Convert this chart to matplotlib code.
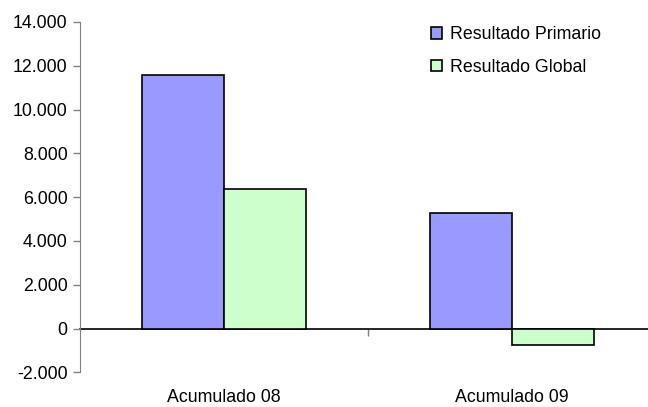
import matplotlib.pyplot as plt
from matplotlib.ticker import FuncFormatter
import numpy as np

plt.rcParams['font.family'] = ['Liberation Sans', 'DejaVu Sans']

categorias = ['Acumulado 08', 'Acumulado 09']
primario = [11600, 5270]
glob = [6380, -775]
series = ['Resultado Primario', 'Resultado Global']
colores = ['#9999FF', '#CCFFCC']

fig = plt.figure(figsize=(6.48, 4.07), dpi=100)
ax = fig.add_axes([80/648, 34.7/407, 576/648, 350.3/407])

x = np.arange(len(categorias))
w = 0.285
ax.bar(x - w/2, primario, w, color=colores[0], edgecolor='black', linewidth=1.2, label=series[0], zorder=2)
ax.bar(x + w/2, glob, w, color=colores[1], edgecolor='black', linewidth=1.2, label=series[1], zorder=2)

ax.set_xlim(-0.5, 1.5)
ax.set_ylim(-2000, 14000)
ax.set_yticks(range(-2000, 14001, 2000))
ax.yaxis.set_major_formatter(FuncFormatter(lambda v, p: '{:,.0f}'.format(v).replace(',', '.')))

# categorias abajo, sin linea
ax.set_xticks(x)
ax.set_xticklabels(categorias)
ax.tick_params(axis='x', length=0, pad=12, labelsize=12.8)
ax.tick_params(axis='y', direction='out', length=5, width=1, color='#808080', labelsize=12.8, pad=4)

for s in ['top', 'right', 'bottom']:
	ax.spines[s].set_visible(False)
ax.spines['left'].set_color('#808080')

# eje horizontal en cero con marca entre categorias
eje0 = ax.secondary_xaxis(2000/16000)
eje0.set_xticks([0.5])
eje0.set_xticklabels([''])
eje0.tick_params(direction='out', length=5, width=1, color='#808080')
eje0.spines['bottom'].set_color('black')
eje0.spines['bottom'].set_linewidth(1.2)
eje0.spines['bottom'].set_zorder(3)

ax.legend(loc='upper left', bbox_to_anchor=(431/648, 1 - 26/407), bbox_transform=fig.transFigure,
	frameon=False, fontsize=12.8, handlelength=0.62, handleheight=0.62, handletextpad=0.45,
	labelspacing=0.88, borderpad=0, borderaxespad=0)

fig.savefig('out.png', dpi=100)
